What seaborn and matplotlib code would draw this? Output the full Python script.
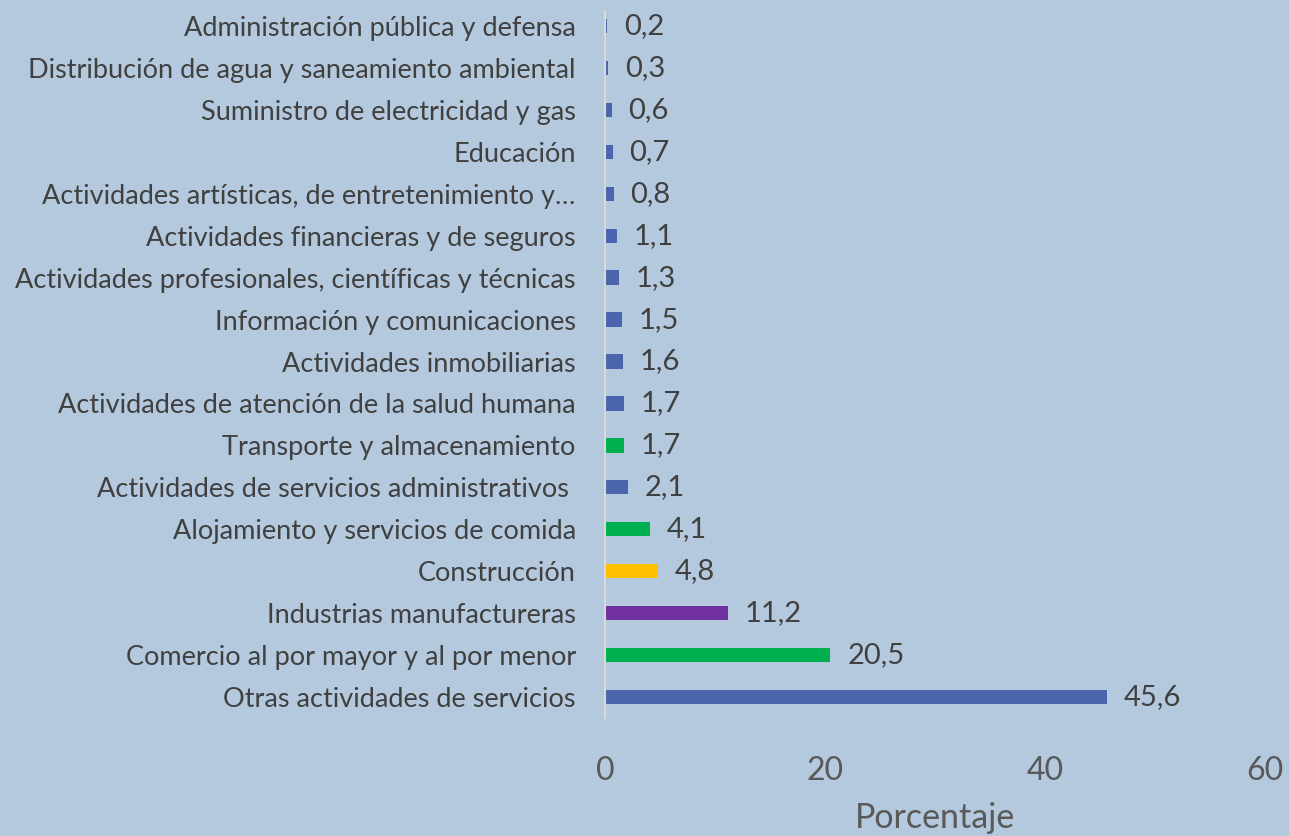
import matplotlib
matplotlib.use("Agg")
import matplotlib.pyplot as plt
import seaborn as sns
import pandas as pd

categories = [
    "Administración pública y defensa",
    "Distribución de agua y saneamiento ambiental",
    "Suministro de electricidad y gas",
    "Educación",
    "Actividades artísticas, de entretenimiento y…",
    "Actividades financieras y de seguros",
    "Actividades profesionales, científicas y técnicas",
    "Información y comunicaciones",
    "Actividades inmobiliarias",
    "Actividades de atención de la salud humana",
    "Transporte y almacenamiento",
    "Actividades de servicios administrativos ",
    "Alojamiento y servicios de comida",
    "Construcción",
    "Industrias manufactureras",
    "Comercio al por mayor y al por menor",
    "Otras actividades de servicios",
]
values = [0.2, 0.3, 0.6, 0.7, 0.8, 1.1, 1.3, 1.5, 1.6, 1.7, 1.7, 2.1, 4.1, 4.8, 11.2, 20.5, 45.6]
BLUE, GREEN, YELLOW, PURPLE = "#4a64ae", "#00b050", "#ffc000", "#7030a0"
bar_colors = [BLUE, BLUE, BLUE, BLUE, BLUE, BLUE, BLUE, BLUE, BLUE, BLUE,
              GREEN, BLUE, GREEN, YELLOW, PURPLE, GREEN, BLUE]
x_ticks = [0, 20, 40, 60]
x_label = "Porcentaje"

BG = "#b4c9dd"
sns.set_theme(style="white")
plt.rcParams["font.family"] = ["Lato", "DejaVu Sans"]

df = pd.DataFrame({"cat": categories, "val": values})
fig = plt.figure(figsize=(12.89, 8.36), dpi=100, facecolor=BG)
ax = fig.add_axes([605/1289, 1 - 718/836, 660/1289, 713/836])
ax.set_facecolor(BG)

sns.barplot(data=df, y="cat", x="val", hue="cat", palette=dict(zip(categories, bar_colors)),
            orient="h", width=0.34, legend=False, ax=ax, saturation=1, linewidth=0)

for cont in ax.containers:
    labs = [f"{v:.1f}".replace(".", ",") for v in cont.datavalues]
    ax.bar_label(cont, labels=labs, padding=12, fontsize=21, color="#404040")

ax.set_xlim(0, 60)
ax.set_ylim(16.5, -0.5)
ax.set_xticks(x_ticks)
ax.set_xticklabels([str(t) for t in x_ticks], fontsize=23, color="#595959")
ax.tick_params(axis="x", length=0, pad=27)
ax.tick_params(axis="y", length=0, pad=21, labelsize=19.5, labelcolor="#404040")
ax.set_ylabel("")
ax.set_xlabel(x_label, fontsize=24.5, color="#595959", labelpad=12)
for s in ["top", "right", "bottom"]:
    ax.spines[s].set_visible(False)
ax.spines["left"].set_color("#d9d9d9")
ax.spines["left"].set_linewidth(1.5)
ax.spines["left"].set_bounds(-0.35, 16.5)

fig.savefig("out.png", dpi=100, facecolor=BG)
